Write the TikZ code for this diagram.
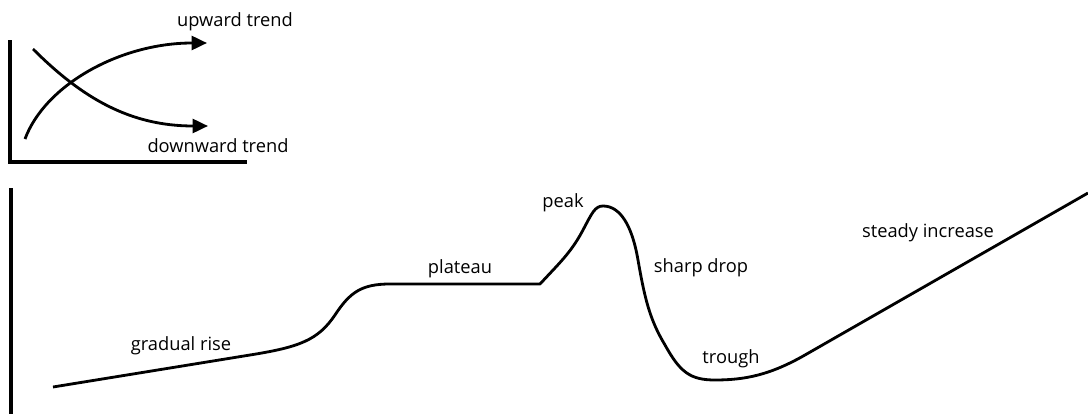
\documentclass[tikz,border=0pt]{standalone}
\usepackage{fontspec}
\setmainfont{Open Sans}
\usepackage{tikz}
\usetikzlibrary{arrows.meta}

\begin{document}
\begin{tikzpicture}[x=0.025cm,y=-0.025cm,
   lbl/.style={anchor=base,font=\fontsize{13}{15}\selectfont,inner sep=0pt},
   axis/.style={line width=2.2pt},
   curve/.style={line width=2pt,line join=round},
   trend/.style={line width=2pt,-{Triangle[length=11pt,width=10pt]}}]
  \useasboundingbox (0,0) rectangle (1088,414);
  % small chart
  \draw[axis] (10,40) |- (247,162);
  \coordinate (up0) at (25,139);
  \coordinate (up1) at (207,43);
  \coordinate (dn0) at (33,49);
  \coordinate (dn1) at (208,126);
  \draw[trend] (up0) .. controls (45,85) and (120,43) .. (up1);
  \draw[trend] (dn0) .. controls (82,98) and (130,126) .. (dn1);
  \node[lbl] (upl) at (235,27) {upward trend};
  \node[lbl] (dnl) at (218,152) {downward trend};
  % main chart
  \draw[axis,line width=2.8pt] (11,188) -- (11,414);
  \draw[curve] (53,387) -- (250,355)
     .. controls (300,347) and (318,340) .. (335,315)
     .. controls (350,292) and (362,284) .. (390,284)
     -- (540,284) -- (555,268)
     .. controls (568,254) and (575,245) .. (583,230)
     .. controls (592,213) and (595,206) .. (603,206)
     .. controls (620,206) and (632,225) .. (638,260)
     .. controls (645,300) and (650,320) .. (665,345)
     .. controls (680,372) and (690,380) .. (715,380)
     .. controls (745,380) and (770,375) .. (805,355)
     -- (1088,193);
  \node[lbl] (rise) at (181,350) {gradual rise};
  \node[lbl] (plat) at (460,273) {plateau};
  \node[lbl] (peak) at (563,207) {peak};
  \node[lbl] (drop) at (701,272) {sharp drop};
  \node[lbl] (trgh) at (731,363) {trough};
  \node[lbl] (incr) at (928,237) {steady increase};
\end{tikzpicture}
\end{document}
